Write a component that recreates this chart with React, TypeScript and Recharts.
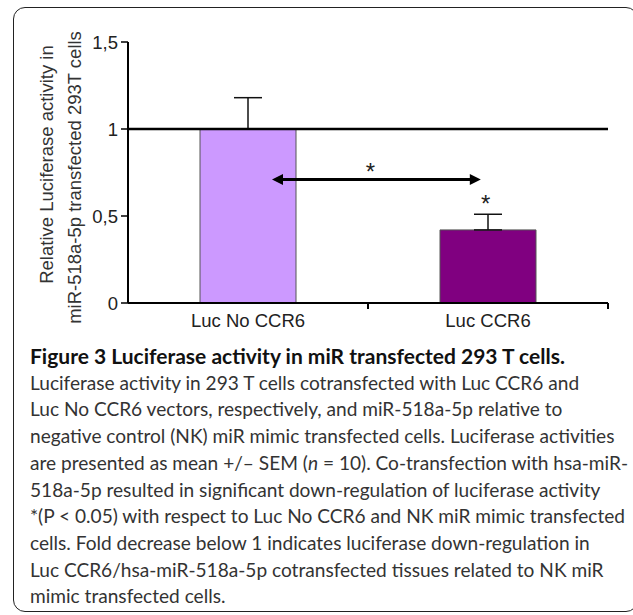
import React from 'react';
import { ComposedChart, Bar, Cell, ErrorBar, XAxis, YAxis, ReferenceLine, ReferenceDot } from 'recharts';

const categories = ['Luc No CCR6', 'Luc CCR6'];
const means = [1.0, 0.42];
const semUpper = [0.18, 0.09];
const barColors = ['#cc99ff', '#800080'];
const yTicks = [0, 0.5, 1, 1.5];
const baseline = 1;
// arrow and significance stars, on a hidden 0..2 axis (category i spans i..i+1)
const arrowFrom = 0.6;
const arrowTo = 1.47;
const arrowLevel = 0.71;
const starX = [1.01, 1.49];
const starY = [0.78, 0.6];

const yLabelLines = ['Relative Luciferase activity in', 'miR-518a-5p transfected 293T cells'];
const captionTitle = 'Figure 3 Luciferase activity in miR transfected 293 T cells.';
const captionLines = [
  'Luciferase activity in 293 T cells cotransfected with Luc CCR6 and',
  'Luc No CCR6 vectors, respectively, and miR-518a-5p relative to',
  'negative control (NK) miR mimic transfected cells. Luciferase activities',
  'are presented as mean +/\u2013 SEM (|n| = 10). Co-transfection with hsa-miR-',
  '518a-5p resulted in significant down-regulation of luciferase activity',
  '*(P < 0.05) with respect to Luc No CCR6 and NK miR mimic transfected',
  'cells. Fold decrease below 1 indicates luciferase down-regulation in',
  'Luc CCR6/hsa-miR-518a-5p cotransfected tissues related to NK miR',
  'mimic transfected cells.',
];

const data = categories.map((name, i) => ({ name, pos: i + 0.5, value: means[i], err: [0, semUpper[i]] }));

const FONT = '"Liberation Sans", Arial, sans-serif';
const CHART_FS = 18.5;

const CategoryTick = (props: any) => {
  const { x, y, payload } = props;
  const half = payload.offset || 0;
  return (
    <g>
      <text x={x} y={y + 16} textAnchor="middle" fill="#222" fontSize={CHART_FS} fontFamily={FONT}>
        {payload.value}
      </text>
      <line x1={x + half} y1={y - 8} x2={x + half} y2={y - 2} stroke="#000" strokeWidth={2} />
    </g>
  );
};

const YLabel = (props: any) => {
  const { viewBox } = props;
  const cy = viewBox.y + viewBox.height / 2;
  return (
    <g>
      {yLabelLines.map((t, i) => {
        const cx = 46 + i * 28;
        const c = cy - 8 + i * 13;
        return (
          <text
            key={i}
            x={cx}
            y={c}
            transform={`rotate(-90 ${cx} ${c})`}
            textAnchor="middle"
            dominantBaseline="central"
            fill="#333"
            fontSize={CHART_FS}
            fontFamily={FONT}
          >
            {t}
          </text>
        );
      })}
    </g>
  );
};

const arrowShape = (props: any) => {
  const { x1, y1, x2, y2 } = props;
  const left = Math.min(x1, x2);
  const right = Math.max(x1, x2);
  const y = (y1 + y2) / 2;
  return (
    <g>
      <line x1={left + 8} y1={y} x2={right - 8} y2={y} stroke="#000" strokeWidth={3} />
      <polygon points={`${left},${y} ${left + 11},${y - 5.5} ${left + 11},${y + 5.5}`} fill="#000" />
      <polygon points={`${right},${y} ${right - 11},${y - 5.5} ${right - 11},${y + 5.5}`} fill="#000" />
    </g>
  );
};

const starShape = (props: any) => (
  <text x={props.cx} y={props.cy + 13} textAnchor="middle" fontSize={24} fontFamily={FONT} fill="#222">
    *
  </text>
);

const renderLine = (line: string) => {
  const parts = line.split('|');
  return parts.map((p, i) => (i % 2 === 1 ? <i key={i}>{p}</i> : <span key={i}>{p}</span>));
};

export default function App() {
  return (
    <div style={{ position: 'absolute', left: 0, top: 0, width: 633, height: 615, overflow: 'hidden', background: '#fff' }}>
      <div
        style={{
          position: 'absolute',
          left: 13,
          top: 7,
          width: 625,
          height: 605,
          border: '1.5px solid #222',
          borderRadius: 12,
          boxSizing: 'border-box',
        }}
      />
      <div style={{ position: 'absolute', left: 0, top: 0 }}>
        <ComposedChart
          width={633}
          height={340}
          data={data}
          margin={{ top: 42, right: 25, bottom: 0, left: 0 }}
          barCategoryGap="30%"
          style={{ fontFamily: FONT }}
        >
          <XAxis
            dataKey="name"
            height={37}
            axisLine={{ stroke: '#000', strokeWidth: 2 }}
            tickLine={false}
            tickSize={6}
            tickMargin={2}
            tick={<CategoryTick />}
            interval={0}
          />
          <XAxis xAxisId="num" dataKey="pos" type="number" domain={[0, 2]} hide allowDataOverflow />
          <YAxis
            width={128}
            domain={[0, 1.5]}
            ticks={yTicks}
            interval={0}
            axisLine={{ stroke: '#000', strokeWidth: 2 }}
            tickLine={{ stroke: '#000', strokeWidth: 1.5 }}
            tickSize={7}
            tickMargin={3}
            tick={{ fill: '#222', fontSize: CHART_FS, fontFamily: FONT }}
            tickFormatter={(v: number) => String(v).replace('.', ',')}
            label={<YLabel />}
          />
          <Bar dataKey="value" isAnimationActive={false} stroke="#555" strokeWidth={1}>
            {data.map((d, i) => (
              <Cell key={d.name} fill={barColors[i]} />
            ))}
            <ErrorBar dataKey="err" direction="y" width={14} stroke="#111" strokeWidth={1.5} isAnimationActive={false} />
          </Bar>
          <ReferenceLine y={baseline} stroke="#000" strokeWidth={2.5} />
          <ReferenceLine
            xAxisId="num"
            ifOverflow="visible"
            segment={[
              { x: arrowFrom, y: arrowLevel },
              { x: arrowTo, y: arrowLevel },
            ]}
            shape={arrowShape}
          />
          {starX.map((sx, i) => (
            <ReferenceDot key={i} xAxisId="num" ifOverflow="visible" x={sx} y={starY[i]} r={1} shape={starShape} />
          ))}
        </ComposedChart>
      </div>
      <div
        style={{
          position: 'absolute',
          left: 30,
          top: 343,
          fontFamily: 'Lato, "Open Sans", sans-serif',
          lineHeight: '26.7px',
          whiteSpace: 'nowrap',
          color: '#333',
        }}
      >
        <div style={{ fontWeight: 700, color: '#111', fontSize: 21 }}>{captionTitle}</div>
        {captionLines.map((l, i) => (
          <div key={i} style={{ fontSize: 19.1 }}>
            {renderLine(l)}
          </div>
        ))}
      </div>
    </div>
  );
}
